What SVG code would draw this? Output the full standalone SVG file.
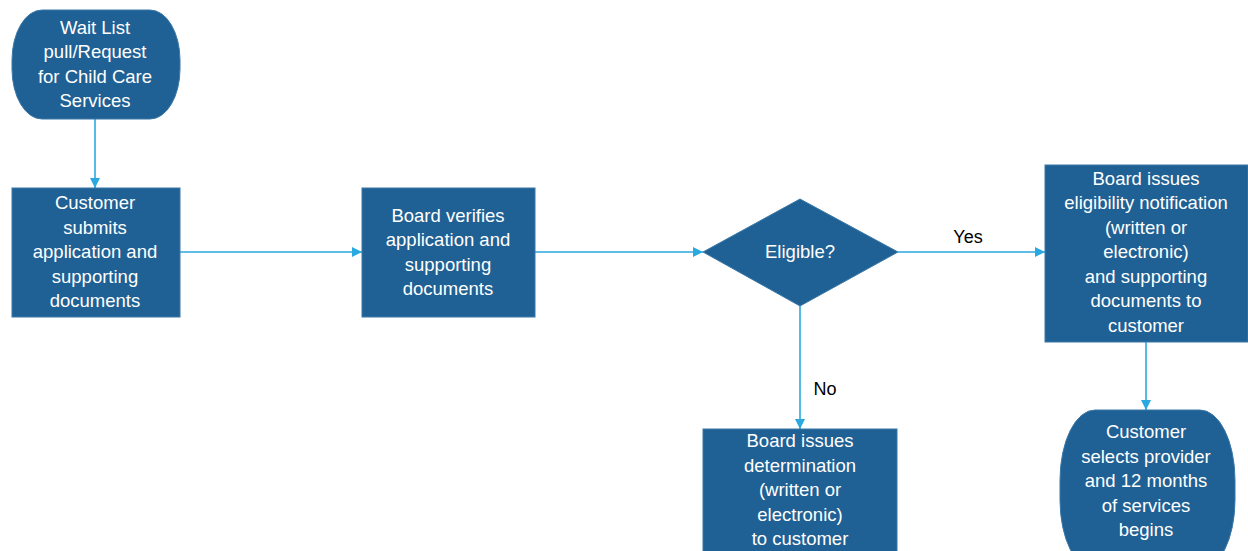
<svg xmlns="http://www.w3.org/2000/svg" width="1248" height="551" viewBox="0 0 1248 551">
<defs>
<marker id="arr" viewBox="0 0 10 10" refX="10" refY="5" markerWidth="10" markerHeight="10" markerUnits="userSpaceOnUse" orient="auto">
<path d="M0,0 L10,5 L0,10 z" fill="#2AA9E0"/>
</marker>
<style>
.n{fill:#1F6194;stroke:#3A78A8;stroke-width:1}
.t{font-family:"Liberation Sans",Arial,sans-serif;font-size:18.5px;fill:#fff;text-anchor:middle}
.l{font-family:"Liberation Sans",Arial,sans-serif;font-size:18px;fill:#000;text-anchor:middle}
.c{stroke:#2AA9E0;stroke-width:1.6;fill:none;marker-end:url(#arr)}
</style>
</defs>
<rect width="1248" height="551" fill="#fff"/>
<g id="connectors">
<line class="c" x1="95" y1="119" x2="95" y2="188"/>
<line class="c" x1="180" y1="252" x2="362" y2="252"/>
<line class="c" x1="535" y1="252" x2="703" y2="252"/>
<line class="c" x1="898" y1="252" x2="1045" y2="252"/>
<line class="c" x1="800" y1="306" x2="800" y2="429"/>
<line class="c" x1="1146" y1="342" x2="1146" y2="410"/>
<text class="l" x="968" y="243">Yes</text>
<text class="l" x="825" y="395">No</text>
</g>
<g id="start">
<rect class="n" x="12" y="10" width="168" height="109" rx="30" ry="50"/>
<text class="t" x="95" y="34">Wait List</text>
<text class="t" x="95" y="58">pull/Request</text>
<text class="t" x="95" y="83">for Child Care</text>
<text class="t" x="95" y="107">Services</text>
</g>
<g id="submit">
<rect class="n" x="12" y="188" width="168" height="129"/>
<text class="t" x="95" y="209">Customer</text>
<text class="t" x="95" y="234">submits</text>
<text class="t" x="95" y="258">application and</text>
<text class="t" x="95" y="283">supporting</text>
<text class="t" x="95" y="307">documents</text>
</g>
<g id="verify">
<rect class="n" x="362" y="188" width="173" height="129"/>
<text class="t" x="448" y="222">Board verifies</text>
<text class="t" x="448" y="246">application and</text>
<text class="t" x="448" y="271">supporting</text>
<text class="t" x="448" y="295">documents</text>
</g>
<g id="eligible">
<polygon class="n" points="800,199 898,252 800,306 703,252"/>
<text class="t" x="800" y="258">Eligible?</text>
</g>
<g id="notify">
<rect class="n" x="1045" y="165" width="203" height="177"/>
<text class="t" x="1146" y="185">Board issues</text>
<text class="t" x="1146" y="209">eligibility notification</text>
<text class="t" x="1146" y="234">(written or</text>
<text class="t" x="1146" y="258">electronic)</text>
<text class="t" x="1146" y="283">and supporting</text>
<text class="t" x="1146" y="307">documents to</text>
<text class="t" x="1146" y="332">customer</text>
</g>
<g id="determination">
<rect class="n" x="703" y="429" width="194" height="130"/>
<text class="t" x="800" y="447">Board issues</text>
<text class="t" x="800" y="472">determination</text>
<text class="t" x="800" y="496">(written or</text>
<text class="t" x="800" y="521">electronic)</text>
<text class="t" x="800" y="545">to customer</text>
</g>
<g id="end">
<rect class="n" x="1060" y="410" width="175" height="160" rx="35" ry="70"/>
<text class="t" x="1146" y="438">Customer</text>
<text class="t" x="1146" y="463">selects provider</text>
<text class="t" x="1146" y="487">and 12 months</text>
<text class="t" x="1146" y="512">of services</text>
<text class="t" x="1146" y="536">begins</text>
</g>
</svg>
